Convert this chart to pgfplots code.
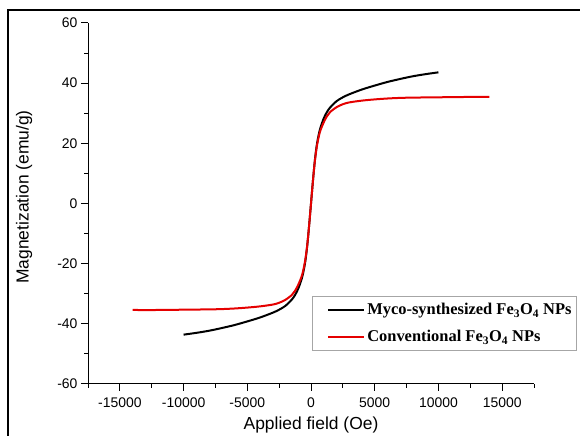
\documentclass[border=0pt]{standalone}
\usepackage{pgfplots}
\pgfplotsset{compat=1.18}
\usepackage{fontspec}
\setmainfont{Liberation Sans}
\newfontfamily\legfont{Liberation Serif}
\begin{document}
\begin{tikzpicture}[x=1bp,y=1bp]
\useasboundingbox (0,0) rectangle (580,436);
\draw[line width=1.3bp] (8,0) -- (8,426) -- (580,426);
\begin{axis}[
  at={(88bp,52bp)}, anchor=south west,
  scale only axis, width=446bp, height=361bp,
  xmin=-17500, xmax=17500, ymin=-60, ymax=60,
  axis lines=left,
  axis line style={-, line width=1bp},
  tick align=outside,
  tick style={black, line width=1bp},
  major tick length=7bp, minor tick length=4bp,
  xtick={-15000,-10000,...,15000},
  minor xtick={-17500,-12500,...,17500},
  ytick={-60,-40,...,60},
  minor ytick={-50,-30,...,50},
  scaled x ticks=false,
  /pgf/number format/1000 sep={},
  /pgf/number format/assume math mode=true,
  tick label style={font=\fontsize{14}{16}\selectfont},
  xticklabel style={yshift=-3bp},
  xlabel={Applied field (Oe)},
  ylabel={Magnetization (emu/g)},
  label style={font=\fontsize{17.5}{20}\selectfont},
  xlabel style={at={(axis description cs:0.5,-0.113)}, anchor=center},
  ylabel style={at={(axis description cs:-0.143,0.518)}, anchor=center},
  legend style={at={(axis description cs:0.502,0.2438)}, anchor=north west,
    draw=gray!70, line width=0.8bp, font=\legfont\bfseries\fontsize{16.5}{18}\selectfont,
    inner xsep=3bp, inner ysep=5bp, row sep=10bp},
  legend cell align=left,
  legend image code/.code={\path (0bp,0bp); \draw[#1, line width=2bp] (12bp,0bp) -- (48bp,0bp);},
]
\addplot[black, line width=2bp, smooth] coordinates {
(-10000,-43.6) (-9000,-43.0) (-8000,-42.3) (-7000,-41.4) (-6000,-40.4) (-5000,-39.2) (-4000,-37.9) (-3000,-36.3) (-2500,-35.3) (-2000,-34.0) (-1500,-31.9) (-1250,-30.4) (-1000,-28.3) (-700,-24.6) (-500,-20.6) (-400,-17.8) (-300,-14.2) (-200,-9.8) (-100,-5.0) (0,0)
(100,5.0) (200,9.8) (300,14.2) (400,17.8) (500,20.6) (700,24.6) (1000,28.3) (1250,30.4) (1500,31.9) (2000,34.0) (2500,35.3) (3000,36.3) (4000,37.9) (5000,39.2) (6000,40.4) (7000,41.4) (8000,42.3) (9000,43.0) (10000,43.6)
};
\addlegendentry{Myco-synthesized Fe\textsubscript{3}O\textsubscript{4} NPs}
\addplot[red!90!black, line width=2bp, smooth] coordinates {
(-14000,-35.4) (-12000,-35.4) (-10000,-35.3) (-8000,-35.2) (-7000,-35.1) (-6000,-34.9) (-5000,-34.6) (-4000,-34.2) (-3000,-33.6) (-2500,-33.0) (-2000,-32.0) (-1500,-30.4) (-1250,-29.0) (-1000,-27.0) (-700,-23.8) (-500,-20.0) (-400,-17.3) (-300,-14.0) (-200,-9.8) (-100,-5.0) (0,0)
(100,5.0) (200,9.8) (300,14.0) (400,17.3) (500,20.0) (700,23.8) (1000,27.0) (1250,29.0) (1500,30.4) (2000,32.0) (2500,33.0) (3000,33.6) (4000,34.2) (5000,34.6) (6000,34.9) (7000,35.1) (8000,35.2) (10000,35.3) (12000,35.4) (14000,35.4)
};
\addlegendentry{Conventional Fe\textsubscript{3}O\textsubscript{4} NPs}
\end{axis}
\end{tikzpicture}
\end{document}
